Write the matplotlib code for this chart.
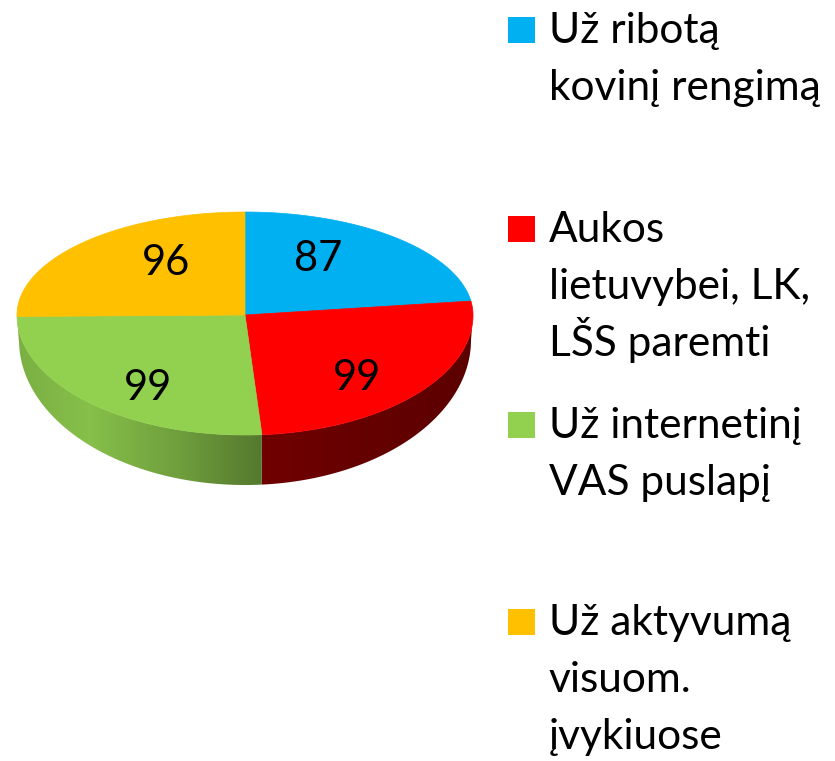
import numpy as np
import matplotlib
matplotlib.use('Agg')
import matplotlib.pyplot as plt
from matplotlib.patches import Polygon, Rectangle

# --- data ---
labels = ['Už ribotą\nkovinį rengimą',
          'Aukos\nlietuvybei, LK,\nLŠS paremti',
          'Už internetinį\nVAS puslapį',
          'Už aktyvumą\nvisuom.\nįvykiuose']
values = [87, 99, 99, 96]
colors = ['#00B0F0', '#FF0000', '#92D050', '#FFC000']

FONT = ['Lato', 'DejaVu Sans']

# pie geometry (pixel units, y grows downward)
CX, CY = 245, 315
RX, RY_BACK, RY_FRONT = 228, 103, 120
BCX, BCY, BRX, BRY = 245, 340, 226, 145   # bottom rim (front half only)

# side wall shading: (x stops, brightness factors) per slice
SIDE_SHADE = {
    1: ([262, 360, 473], [0.44, 0.40, 0.36]),
    2: ([16, 90, 180, 262], [0.84, 0.92, 0.76, 0.58]),
    3: ([16, 30], [0.85, 0.85]),
}

fig = plt.figure(figsize=(8.35, 7.61), dpi=100)
ax = fig.add_axes([0, 0, 1, 1])
ax.set_xlim(0, 835)
ax.set_ylim(761, 0)
ax.axis('off')


def top_pt(t):
    ry = RY_BACK if np.sin(t) > 0 else RY_FRONT
    return CX + RX * np.cos(t), CY - ry * np.sin(t)


def bot_pt(t):
    return BCX + BRX * np.cos(t), BCY - BRY * np.sin(t)


total = sum(values)
start = 90.0
spans = []
for v in values:
    end = start - v / total * 360.0
    spans.append((start, end))
    start = end

# side walls (front half, angles between -180 and 0), gradient clipped to wall
xcols = np.arange(0, 835) + 0.5
for i, (a1, a2) in enumerate(spans):
    lo, hi = max(min(a1, a2), -180.0), min(max(a1, a2), 0.0)
    if hi <= lo:
        continue
    ts = np.radians(np.linspace(lo, hi, 200))
    wall = [top_pt(t) for t in ts] + [bot_pt(t) for t in ts[::-1]]
    poly = Polygon(wall, closed=True, facecolor='none', edgecolor='none')
    ax.add_patch(poly)
    xs_stop, fs = SIDE_SHADE.get(i, ([0, 835], [0.6, 0.6]))
    f = np.interp(xcols, xs_stop, fs)
    rgb = np.array(matplotlib.colors.to_rgb(colors[i]))
    grad = np.clip(f[None, :, None] * rgb[None, None, :], 0, 1)
    im = ax.imshow(grad, extent=(0, 835, 761, 0), aspect='auto',
                   interpolation='bilinear', zorder=1)
    im.set_clip_path(poly)

ax.set_xlim(0, 835)
ax.set_ylim(761, 0)

# top faces
for i, (a1, a2) in enumerate(spans):
    ts = np.radians(np.linspace(a1, a2, 200))
    pts = [(CX, CY)] + [top_pt(t) for t in ts]
    ax.add_patch(Polygon(pts, closed=True, facecolor=colors[i],
                         edgecolor=colors[i], linewidth=0.5, zorder=2))

# value labels
for i, (a1, a2) in enumerate(spans):
    m = np.radians((a1 + a2) / 2)
    if np.sin(m) > 0:
        lx = CX + 0.49 * RX * np.cos(m)
        ly = CY - 0.72 * RY_BACK * np.sin(m)
    else:
        lx = CX + 0.63 * RX * np.cos(m)
        ly = CY - 0.83 * RY_FRONT * np.sin(m)
    ax.text(lx, ly, str(values[i]), ha='center', va='center',
            fontsize=30, family=FONT, color='black', zorder=3)

# legend
LEG_SQ_X, LEG_TXT_X, LINE_H = 508, 549, 57
first_baselines = [43, 242, 438, 635]
for i, lab in enumerate(labels):
    b = first_baselines[i]
    ax.add_patch(Rectangle((LEG_SQ_X, b - 26), 27, 26, facecolor=colors[i],
                           edgecolor='none'))
    for k, line in enumerate(lab.split('\n')):
        ax.text(LEG_TXT_X, b + k * LINE_H, line, ha='left', va='baseline',
                fontsize=30.5, family=FONT, color='black')

fig.savefig('out.png', dpi=100, facecolor='white')
